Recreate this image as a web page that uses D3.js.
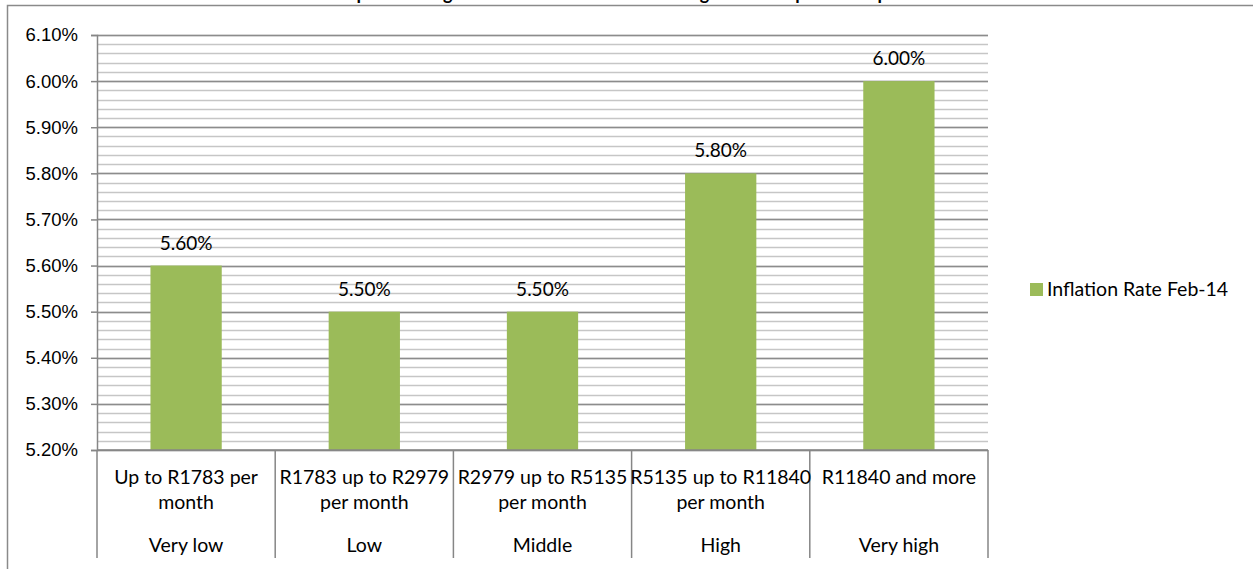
<!DOCTYPE html>
<html>
<head>
<meta charset="utf-8">
<script src="https://cdn.jsdelivr.net/npm/d3@7"></script>
<style>
  body { margin: 0; background: #fff; }
  svg { display: block; font-family: Lato, "Open Sans", sans-serif; }
  .axis text { font-size: 18.5px; fill: #000; }
  .cat text { font-size: 19.5px; fill: #000; }
</style>
</head>
<body>
<div id="chart"></div>
<script>
// chart data
var incomeBands = [
    ["Up to R1783 per", "month"],
    ["R1783 up to R2979", "per month"],
    ["R2979 up to R5135", "per month"],
    ["R5135 up to R11840", "per month"],
    ["R11840 and more"]
];
var groups = ["Very low", "Low", "Middle", "High", "Very high"];
var inflation = [5.6, 5.5, 5.5, 5.8, 6.0];
var yTicks = [5.2, 5.3, 5.4, 5.5, 5.6, 5.7, 5.8, 5.9, 6.0, 6.1];
var seriesName = "Inflation Rate Feb-14";
var title = "CPI for quintile usage levels of households according to total expenditure per household";

var W = 1253, H = 569;
var margin = { top: 35, right: 265, bottom: 119, left: 97 };
var plotW = W - margin.left - margin.right;
var plotH = H - margin.top - margin.bottom;
var barColor = "#9bbb59";

var svg = d3.select("#chart").append("svg")
    .attr("width", W)
    .attr("height", H);

// outer chart border
svg.append("rect")
    .attr("x", 7.5).attr("y", 5.5)
    .attr("width", W + 10).attr("height", H + 10)
    .attr("fill", "none")
    .attr("stroke", "#8a8a8a")
    .attr("stroke-width", 1.5);

// title (mostly cut off at the top, as in the source)
svg.append("text")
    .attr("x", 641).attr("y", 0)
    .attr("text-anchor", "middle")
    .attr("font-weight", "bold")
    .attr("font-size", "18px")
    .text(title);

var g = svg.append("g")
    .attr("transform", "translate(" + margin.left + "," + margin.top + ")");

var x = d3.scaleBand()
    .domain(groups)
    .range([0, plotW])
    .padding(0);
var y = d3.scaleLinear()
    .domain([5.2, 6.1])
    .range([plotH, 0]);

// minor gridlines every 0.02
var minor = d3.range(5.2, 6.1001, 0.02).map(function (v) { return +v.toFixed(2); });
g.append("g").selectAll("line")
    .data(minor)
    .enter().append("line")
    .attr("x1", 0).attr("x2", plotW)
    .attr("y1", function (d) { return Math.round(y(d)) + 0.5; })
    .attr("y2", function (d) { return Math.round(y(d)) + 0.5; })
    .attr("stroke", "#c6c6c6")
    .attr("stroke-width", 1.5);

// major gridlines
g.append("g").selectAll("line")
    .data(yTicks)
    .enter().append("line")
    .attr("x1", 0).attr("x2", plotW)
    .attr("y1", function (d) { return Math.round(y(d)) + 0.5; })
    .attr("y2", function (d) { return Math.round(y(d)) + 0.5; })
    .attr("stroke", "#8c8c8c")
    .attr("stroke-width", 1.5);

// y axis
var yAxis = g.append("g")
    .attr("class", "axis")
    .call(d3.axisLeft(y).tickValues(yTicks).tickSize(6).tickPadding(13)
        .tickFormat(function (d) { return d.toFixed(2) + "%"; }));
yAxis.select(".domain").attr("stroke", "#868686").attr("stroke-width", 1.5);
yAxis.selectAll(".tick line").attr("stroke", "#868686").attr("stroke-width", 1.5);

// bars
g.selectAll(".bar")
    .data(inflation)
    .enter().append("rect")
    .attr("class", "bar")
    .attr("x", function (d, i) { return x(groups[i]) + x.bandwidth() * 0.3; })
    .attr("width", x.bandwidth() * 0.4)
    .attr("y", function (d) { return y(d); })
    .attr("height", function (d) { return plotH - y(d); })
    .attr("fill", barColor);

// data labels
g.selectAll(".lbl")
    .data(inflation)
    .enter().append("text")
    .attr("class", "lbl")
    .attr("x", function (d, i) { return x(groups[i]) + x.bandwidth() / 2; })
    .attr("y", function (d) { return y(d) - 16; })
    .attr("text-anchor", "middle")
    .attr("font-size", "19px")
    .text(function (d) { return d.toFixed(2) + "%"; });

// category axis: baseline + separators
g.append("line")
    .attr("x1", 0).attr("x2", plotW)
    .attr("y1", plotH).attr("y2", plotH)
    .attr("stroke", "#868686").attr("stroke-width", 1.5);
var seps = groups.map(function (d) { return x(d); }).concat([plotW]);
g.append("g").selectAll("line")
    .data(seps)
    .enter().append("line")
    .attr("x1", function (d) { return d; }).attr("x2", function (d) { return d; })
    .attr("y1", plotH).attr("y2", plotH + 108)
    .attr("stroke", "#868686").attr("stroke-width", 1.5);

var cat = g.append("g").attr("class", "cat");
incomeBands.forEach(function (lines, i) {
    var t = cat.append("text")
        .attr("x", x(groups[i]) + x.bandwidth() / 2)
        .attr("y", plotH + 34)
        .attr("text-anchor", "middle");
    lines.forEach(function (s, k) {
        t.append("tspan")
            .attr("x", x(groups[i]) + x.bandwidth() / 2)
            .attr("dy", k === 0 ? 0 : 25)
            .text(s);
    });
});
cat.selectAll(".grp")
    .data(groups)
    .enter().append("text")
    .attr("class", "grp")
    .attr("x", function (d) { return x(d) + x.bandwidth() / 2; })
    .attr("y", plotH + 102)
    .attr("text-anchor", "middle")
    .text(function (d) { return d; });

// legend
var legend = svg.append("g").attr("transform", "translate(1030,283)");
legend.append("rect")
    .attr("width", 13).attr("height", 13)
    .attr("fill", barColor);
legend.append("text")
    .attr("x", 17).attr("y", 13)
    .attr("font-size", "19.5px")
    .text(seriesName);
</script>
</body>
</html>
